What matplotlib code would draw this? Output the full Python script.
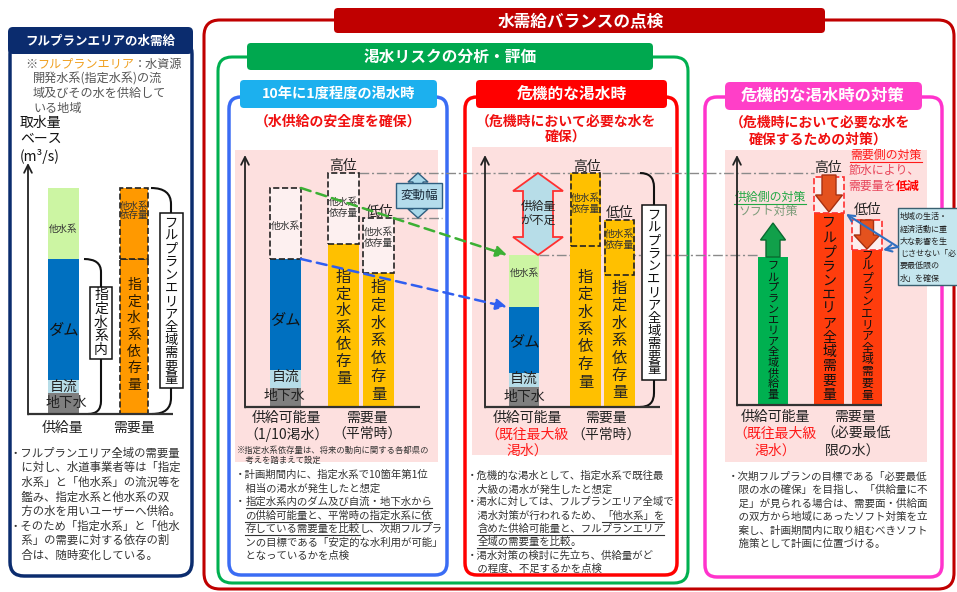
import matplotlib
matplotlib.use('Agg')
import matplotlib.pyplot as plt
from matplotlib.patches import FancyBboxPatch, Rectangle, Polygon, PathPatch, ConnectionPatch
from matplotlib.path import Path

plt.rcParams['font.family'] = ['Noto Sans CJK JP', 'DejaVu Sans']

# ---------------- data (heights in chart units) ----------------
supply_parts = ['地下水', '自流', 'ダム', '他水系']
demand_parts = ['指定水系依存量', '他水系依存量']

left_supply = [21, 13, 121, 71]
left_demand = [155, 71]

p1_supply = [19, 18, 111, 71]
p1_demand_high = [163, 71]
p1_demand_low = [134, 55]

p2_supply = [20, 14, 66, 52]
p2_demand_high = [161, 73]
p2_demand_low = [132, 55]

p3_supply = [148]
p3_demand = [192, 155]        # 高位, 低位 (after saving water)
p3_reduction = [36, 30]

# ---------------- figure ----------------
W_PX, H_PX = 957, 592
fig = plt.figure(figsize=(9.57, 5.92), dpi=100)
bg = fig.add_axes([0, 0, 1, 1])
bg.set_xlim(0, W_PX)
bg.set_ylim(H_PX, 0)
bg.axis('off')
renderer = fig.canvas.get_renderer()


def rbox(x0, y0, x1, y1, fc='none', ec='none', lw=1.0, r=8, z=1, ls='-'):
    p = FancyBboxPatch((x0, y0), x1 - x0, y1 - y0,
                       boxstyle=f"round,pad=0,rounding_size={r}",
                       fc=fc, ec=ec, lw=lw, zorder=z, ls=ls)
    bg.add_patch(p)


def T(ax, x, y, s, size=8, color='#222', ha='center', va='center', weight='normal', **kw):
    return ax.text(x, y, s, fontsize=size, color=color, ha=ha, va=va,
                   fontweight=weight, **kw)


def vtext(ax, x, y_first, y_last, s, size, color='#222', weight='normal'):
    n = len(s)
    for i, ch in enumerate(s):
        y = y_first + (y_last - y_first) * i / (n - 1)
        ax.text(x, y, ch, fontsize=size, color=color, ha='center', va='center',
                fontweight=weight, zorder=5)


def rich(x, y, segs, size, color='#333', ha='left'):
    items = []
    for seg in segs:
        if isinstance(seg, str):
            seg = (seg, {})
        s, o = seg
        t = bg.text(0, y, s, fontsize=size, color=o.get('color', color),
                    fontweight=o.get('weight', 'normal'), ha='left', va='center', zorder=6)
        w = t.get_window_extent(renderer).width
        items.append((t, o, w))
    total = sum(w for _, _, w in items)
    cx = x - total / 2 if ha == 'center' else x
    for t, o, w in items:
        t.set_x(cx)
        if o.get('ul'):
            uy = y + size * 100 / 72 * 0.62
            bg.plot([cx, cx + w], [uy, uy], color=o.get('color', color), lw=0.8, zorder=6)
        cx += w


def lines(x, y0, dy, rows, size, color='#333'):
    for i, r in enumerate(rows):
        rich(x, y0 + i * dy, r if isinstance(r, list) else [r], size, color)


def chart(x_axis, base, w, h):
    ax = fig.add_axes([(x_axis - 10) / W_PX, (H_PX - (base + 10)) / H_PX,
                       (w + 10) / W_PX, (h + 10) / H_PX])
    ax.set_xlim(-10, w)
    ax.set_ylim(-10, h)
    ax.axis('off')
    ax.patch.set_visible(False)
    return ax


def draw_axes(ax, top, right):
    ax.annotate('', xy=(0, top), xytext=(0, -0.5),
                arrowprops=dict(arrowstyle='->', lw=1.3, color='#222',
                                mutation_scale=14, shrinkA=0, shrinkB=0), zorder=4)
    ax.plot([0, right], [0, 0], color='#333', lw=1.6, solid_capstyle='butt', zorder=4)


def block_arrow(ax, xc, y0, y1, bw, hw, hl, double=False, fc='red', ec='k', lw=1.0, z=4):
    s = 1 if y1 > y0 else -1
    if double:
        pts = [(xc, y0), (xc - hw, y0 + s * hl), (xc - bw, y0 + s * hl), (xc - bw, y1 - s * hl),
               (xc - hw, y1 - s * hl), (xc, y1), (xc + hw, y1 - s * hl), (xc + bw, y1 - s * hl),
               (xc + bw, y0 + s * hl), (xc + hw, y0 + s * hl)]
    else:
        pts = [(xc - bw, y0), (xc - bw, y1 - s * hl), (xc - hw, y1 - s * hl), (xc, y1),
               (xc + hw, y1 - s * hl), (xc + bw, y1 - s * hl), (xc + bw, y0)]
    ax.add_patch(Polygon(pts, closed=True, fc=fc, ec=ec, lw=lw, zorder=z))


def bracket(ax, x_top, y_top, x_bot, xv, r, box, text, tsize, t_first, t_last):
    bx0, bx1, by_top, by_bot = box
    P = Path
    upper = Path([(x_top, y_top), (xv, y_top), (xv, y_top - r), (xv, by_top)],
                 [P.MOVETO, P.CURVE3, P.CURVE3, P.LINETO])
    lower = Path([(xv, by_bot), (xv, r), (xv, 0), (x_bot, 0)],
                 [P.MOVETO, P.LINETO, P.CURVE3, P.CURVE3])
    for p in (upper, lower):
        ax.add_patch(PathPatch(p, fc='none', ec='#111', lw=1.5, zorder=3))
    ax.add_patch(Rectangle((bx0, by_bot), bx1 - bx0, by_top - by_bot, fc='white',
                           ec='#111', lw=1.1, zorder=3))
    vtext(ax, (bx0 + bx1) / 2, t_first, t_last, text, tsize, color='#111')


C_GROUND, C_JIRYU, C_DAM, C_OTHER = '#7f7f7f', '#b7dde8', '#0070c0', '#ccf5a3'
C_ORANGE, C_YELLOW, C_PALE = '#ff9900', '#ffc000', '#fdf0f0'
C_PINK = '#fde0df'

# ---------------- frames & headers ----------------
rbox(10, 40, 192, 576, ec='#0b2c6e', lw=2.5, r=14)
rbox(8, 27, 193, 54, fc='#0b2c6e', r=5, z=2)
T(bg, 100, 41, 'フルプランエリアの水需給', 9, 'white', weight='bold', zorder=3)

rbox(204, 20, 954, 589, ec='#c00000', lw=2.2, r=16)
rbox(334, 8, 825, 33, fc='#c00000', r=4, z=2)
T(bg, 581, 21, '水需給バランスの点検', 12, 'white', weight='bold', zorder=3)

rbox(218, 57, 688, 583, ec='#00b050', lw=2.2, r=14)
rbox(247, 43, 653, 70, fc='#00a84f', r=4, z=2)
T(bg, 450, 57, '渇水リスクの分析・評価', 11.3, 'white', weight='bold', zorder=3)

rbox(229, 97, 447, 575, ec='#3a6cf4', lw=2.5, r=12)
rbox(240, 80, 437, 108, fc='#1cb0ee', r=4, z=2)
T(bg, 339, 94, '10年に1度程度の渇水時', 10.3, 'white', weight='bold', zorder=3)

rbox(465, 97, 677, 575, ec='#ff0000', lw=2.5, r=12)
rbox(476, 80, 667, 108, fc='#ff0000', r=4, z=2)
T(bg, 572, 94, '危機的な渇水時', 11.3, 'white', weight='bold', zorder=3)

rbox(705, 97, 942, 577, ec='#ff33cc', lw=2.5, r=12)
rbox(725, 82, 922, 110, fc='#ff3fc8', r=5, z=2)
T(bg, 823, 96, '危機的な渇水時の対策', 11.8, 'white', weight='bold', zorder=3)

RED = '#f01010'
T(bg, 338, 122, '（水供給の安全度を確保）', 10, RED, weight='bold')
T(bg, 566, 122, '（危機時において必要な水を', 10, RED, weight='bold')
T(bg, 566, 138, '確保）', 10, RED, weight='bold')
T(bg, 820, 123, '（危機時において必要な水を', 10, RED, weight='bold')
T(bg, 818, 140, '確保するための対策）', 10, RED, weight='bold')

bg.add_patch(Rectangle((235, 150), 203, 312, fc=C_PINK, ec='none', zorder=0.5))
bg.add_patch(Rectangle((472, 147), 200, 308, fc=C_PINK, ec='none', zorder=0.5))
bg.add_patch(Rectangle((725, 150), 202, 312, fc=C_PINK, ec='none', zorder=0.5))

# ---------------- left panel texts ----------------
rich(25, 64, ['※', ('フルプランエリア', {'color': '#f0a020'}), '：水資源'], 8.7, '#555')
lines(33, 79, 14.6, ['開発水系(指定水系)の流', '域及びその水を供給して', 'いる地域'], 8.7, '#555')
T(bg, 20, 123, '取水量', 10, '#111', ha='left')
T(bg, 20, 139, 'ベース', 10, '#111', ha='left')
T(bg, 20, 156, '(m³/s)', 10, '#111', ha='left')
T(bg, 63, 428, '供給量', 10, '#222')
T(bg, 134, 428, '需要量', 10, '#222')
lines(10, 453, 14.6, ['・フルプランエリア全域の需要量',
                      '　に対し、水道事業者等は「指定',
                      '　水系」と「他水系」の流況等を',
                      '　鑑み、指定水系と他水系の双',
                      '　方の水を用いユーザーへ供給。',
                      '・そのため「指定水系」と「他水',
                      '　系」の需要に対する依存の割',
                      '　合は、随時変化している。'], 8.2)

# ---------------- left chart ----------------
axL = chart(28, 414, 170, 262)
bot = 0
for v, c in zip(left_supply, [C_GROUND, C_JIRYU, C_DAM, C_OTHER]):
    axL.bar(35.5, v, 31, bottom=bot, color=c, lw=0, zorder=2)
    bot += v
bot = 0
for v in left_demand:
    axL.bar(106, v, 28, bottom=bot, color=C_ORANGE, ec='#222', ls='--', lw=1.2, zorder=2)
    bot += v
draw_axes(axL, 251, 145)
sL = sum(left_supply)
T(axL, 35.5, sL - left_supply[3] / 2 - 6, '他水系', 6.8, '#333', zorder=5)
T(axL, 35.5, 84, 'ダム', 11, '#111', zorder=5)
T(axL, 35.5, 27, '自流', 10, '#222', zorder=5)
T(axL, 38, 11, '地下水', 10, '#222', zorder=5)
T(axL, 106, left_demand[0] + left_demand[1] / 2 + 13, '他水系\n依存量', 6.8, '#333',
  linespacing=1.1, zorder=5)
vtext(axL, 106, 129, 29, '指定水系依存量', 10, '#2a1a00')
bracket(axL, 56, sL - left_supply[3], 60, 73, 13, (62, 84, 127, 55), '指定水系内', 10, 119, 64)
bracket(axL, 123, sum(left_demand), 124, 143, 16, (131.5, 154.5, 201, 26),
        'フルプランエリア全域需要量', 9.5, 191, 34)

# ---------------- panel 1 chart ----------------
ax1 = chart(245, 407, 200, 262)
bot = 0
for v, c in zip(p1_supply[:3], [C_GROUND, C_JIRYU, C_DAM]):
    ax1.bar(40.5, v, 31, bottom=bot, color=c, lw=0, zorder=2)
    bot += v
ax1.bar(40.5, p1_supply[3], 31, bottom=bot, color=C_PALE, ec='#222', ls='--', lw=1.2, zorder=2)
for xc, vals in [(98.5, p1_demand_high), (133.5, p1_demand_low)]:
    ax1.bar(xc, vals[0], 31, color=C_YELLOW, lw=0, zorder=2)
    ax1.bar(xc, vals[1], 31, bottom=vals[0], color=C_PALE, ec='#222', ls='--', lw=1.2, zorder=2)
draw_axes(ax1, 252, 175)
s1 = sum(p1_supply)
T(ax1, 40.5, s1 - p1_supply[3] / 2 - 2, '他水系', 7, '#333', zorder=5)
T(ax1, 40.5, 87, 'ダム', 11, '#111', zorder=5)
T(ax1, 40.5, 30, '自流', 10, '#222', zorder=5)
T(ax1, 39, 11, '地下水', 10, '#222', zorder=5)
T(ax1, 98.5, p1_demand_high[0] + p1_demand_high[1] / 2 + 1, '他水系\n依存量', 7, '#333',
  linespacing=1.05, zorder=5)
T(ax1, 133.5, p1_demand_low[0] + p1_demand_low[1] / 2 + 8, '他水系\n依存量', 7, '#333',
  linespacing=1.05, zorder=5)
vtext(ax1, 98.5, 130, 29, '指定水系依存量', 11, '#222')
vtext(ax1, 133.5, 120, 12, '指定水系依存量', 11, '#222')
block_arrow(ax1, 173, sum(p1_demand_low), sum(p1_demand_high), 5, 10, 9, double=True,
            fc='#a8d8ea', ec='#2f5f80', lw=1.0)
ax1.add_patch(Rectangle((151, 199), 46, 25, fc='#b4dcec', ec='#2f5f80', lw=1.0, zorder=5))
T(ax1, 174, 211.5, '変動幅', 9, '#1a2a3a', zorder=6)

T(bg, 343, 166, '高位', 10, '#222')
T(bg, 380, 212, '低位', 10, '#222')
T(bg, 286, 418, '供給可能量', 10, '#222')
T(bg, 286, 434, '（1/10渇水）', 10, '#222')
T(bg, 367, 418, '需要量', 10, '#222')
T(bg, 367, 434, '（平常時）', 10, '#222')
T(bg, 237, 450, '※指定水系依存量は、将来の動向に関する各都県の', 6, '#333', ha='left')
T(bg, 237, 460, '　考えを踏まえて設定', 6, '#333', ha='left')
UL = {'ul': True}
lines(235, 475, 13.5, ['・計画期間内に、指定水系で10箇年第1位',
                       '　相当の渇水が発生したと想定',
                       ['・', ('指定水系内のダム及び自流・地下水から', UL)],
                       ['　', ('の供給可能量と、平常時の指定水系に依', UL)],
                       ['　', ('存している需要量を比較', UL), 'し、次期フルプラ'],
                       '　ンの目標である「安定的な水利用が可能」',
                       '　となっているかを点検'], 7.5)

# ---------------- panel 2 chart ----------------
ax2 = chart(485, 407, 190, 262)
bot = 0
for v, c in zip(p2_supply, [C_GROUND, C_JIRYU, C_DAM, C_OTHER]):
    ax2.bar(39, v, 30, bottom=bot, color=c, lw=0, zorder=2)
    bot += v
for xc, vals in [(100.5, p2_demand_high), (134.5, p2_demand_low)]:
    ax2.bar(xc, sum(vals), 31, color=C_YELLOW, lw=0, zorder=2)
    ax2.bar(xc, vals[1], 29, bottom=vals[0], color=C_YELLOW, ec='#222', ls='--', lw=1.2, zorder=2)
draw_axes(ax2, 252, 175)
s2 = sum(p2_supply)
T(ax2, 39, s2 - p2_supply[3] / 2 + 8, '他水系', 7, '#333', zorder=5)
T(ax2, 39, 65, 'ダム', 11, '#111', zorder=5)
T(ax2, 39, 28, '自流', 10, '#222', zorder=5)
T(ax2, 39, 10, '地下水', 10, '#222', zorder=5)
T(ax2, 100.5, p2_demand_high[0] + p2_demand_high[1] / 2 + 6, '他水系\n依存量', 7, '#333',
  linespacing=1.05, zorder=5)
T(ax2, 134.5, p2_demand_low[0] + p2_demand_low[1] / 2 + 8, '他水系\n依存量', 7, '#333',
  linespacing=1.05, zorder=5)
vtext(ax2, 100.5, 130, 25, '指定水系依存量', 11, '#222')
vtext(ax2, 134.5, 119, 14, '指定水系依存量', 11, '#222')
block_arrow(ax2, 53, s2, sum(p2_demand_high), 15, 25, 18, double=True,
            fc='#b7dde8', ec='#ff3030', lw=1.3)
T(ax2, 53, 194, '供給量\nが不足', 8.5, '#222', linespacing=1.1, zorder=6)
bracket(ax2, 155, sum(p2_demand_high), 155, 169, 14, (157, 181, 202, 27),
        'フルプランエリア全域需要量', 9.5, 192, 37)

T(bg, 587, 167, '高位', 10, '#222')
T(bg, 620, 213, '低位', 10, '#222')
T(bg, 527, 418, '供給可能量', 10, '#222')
T(bg, 527, 435, '（既往最大級', 10, '#ff1a1a')
T(bg, 527, 451, '渇水）', 10, '#ff1a1a')
T(bg, 606, 418, '需要量', 10, '#222')
T(bg, 606, 435, '（平常時）', 10, '#222')
lines(467, 476, 13.2, ['・危機的な渇水として、指定水系で既往最',
                       '　大級の渇水が発生したと想定',
                       '・渇水に対しては、フルプランエリア全域で',
                       ['　渇水対策が行われるため、', ('「他水系」を', UL)],
                       ['　', ('含めた供給可能量と、フルプランエリア', UL)],
                       ['　', ('全域の需要量を比較', UL), '。'],
                       '・渇水対策の検討に先立ち、供給量がど',
                       '　の程度、不足するかを点検'], 7.5)

# ---------------- panel 3 chart ----------------
ax3 = chart(737, 405, 200, 262)
ax3.bar(36, p3_supply[0], 30, color='#00b050', lw=0, zorder=2)
for xc, v, red in zip([92, 130], p3_demand, p3_reduction):
    ax3.bar(xc, v, 30, color='#ff3d0d', lw=0, zorder=2)
    ax3.bar(xc, red, 30, bottom=v, color='#fdeeee', ec='#ff3030', ls='--', lw=1.2, zorder=2)
draw_axes(ax3, 250, 145)
block_arrow(ax3, 36, p3_supply[0], p3_supply[0] + 34, 7, 12.5, 17, fc='#11a04a', ec='#0a6a30')
block_arrow(ax3, 92, p3_demand[0] + p3_reduction[0] + 2, p3_demand[0] + 1, 7, 13.5, 17,
            fc='#e4521e', ec='#a83010')
block_arrow(ax3, 130, p3_demand[1] + p3_reduction[1], p3_demand[1] + 1, 6.5, 13, 14,
            fc='#e4521e', ec='#a83010')
vtext(ax3, 36, 138, 10, 'フルプランエリア全域供給量', 8, '#111')
vtext(ax3, 92, 182, 10, 'フルプランエリア全域需要量', 10, '#111')
vtext(ax3, 130, 150, 10, 'フルプランエリア全域需要量', 8.5, '#111')
ax3.annotate('', xy=(92 + 17, p3_demand[0] - 1), xytext=(161, 158),
             arrowprops=dict(arrowstyle='->', color='#2f6fc0', lw=1.5, mutation_scale=12,
                             shrinkA=0, shrinkB=0), zorder=6)
ax3.annotate('', xy=(130 + 16, p3_demand[1]), xytext=(161, 158),
             arrowprops=dict(arrowstyle='->', color='#2f6fc0', lw=1.5, mutation_scale=12,
                             shrinkA=0, shrinkB=0), zorder=6)

T(bg, 828, 168, '高位', 10, '#222')
T(bg, 868, 210, '低位', 10, '#222')
rich(886, 155, [('需要側の対策', {'color': '#ff1a1a', 'ul': True})], 8.6, ha='center')
rich(884, 170, ['節水により、'], 8.6, '#e8455a', ha='center')
rich(884, 186, ['需要量を', ('低減', {'color': '#ff0000', 'weight': 'bold'})], 8.6, '#e8455a',
     ha='center')
rich(770, 197, [('供給側の対策', {'color': '#22a844', 'ul': True})], 8.6, ha='center')
T(bg, 768, 212, 'ソフト対策', 8.6, '#7a9a78')

T(bg, 775, 417, '供給可能量', 10, '#222')
T(bg, 775, 434, '（既往最大級', 10, '#ff1a1a')
T(bg, 775, 451, '渇水）', 10, '#ff1a1a')
T(bg, 855, 417, '需要量', 10, '#222')
T(bg, 856, 434, '（必要最低', 10, '#222')
T(bg, 853, 451, '限の水）', 10, '#222')
lines(728, 477, 13.4, ['・次期フルプランの目標である「必要最低',
                       '　限の水の確保」を目指し、「供給量に不',
                       '　足」が見られる場合は、需要面・供給面',
                       '　の双方から地域にあったソフト対策を立',
                       '　案し、計画期間内に取り組むべきソフト',
                       '　施策として計画に位置づける。'], 7.6)

# callout
bg.add_patch(Rectangle((898, 208), 70, 77, fc='#c5e6ee', ec='#3a6070', lw=1.0, zorder=3))
lines(900, 217, 12.2, ['地域の生活・', '経済活動に重', '大な影響を生', 'じさせない「必',
                       '要最低限の', '水」を確保'], 5.8, '#222')

# ---------------- cross-panel guide lines ----------------
DD = (0, (7, 2, 1.5, 2))
yA = 407 - sum(p1_demand_high)
bg.plot([245 + 98.5 + 15.5, 737 + 92 - 15], [yA, yA], color='#8a8a8a', lw=1.0, ls=DD, zorder=1)
yB = 407 - sum(p1_demand_low)
bg.plot([245 + 133.5 + 15.5, 245 + 197], [yB, yB], color='#8a8a8a', lw=1.0, ls=DD, zorder=1)
yC = 407 - sum(p2_supply)
bg.plot([485 + 39 + 15, 737 + 36 - 15], [yC, yC], color='#8a8a8a', lw=1.0, ls=DD, zorder=1)

for l1, l2, col in [(sum(p1_supply), sum(p2_supply), '#3cb034'),
                    (sum(p1_supply[:3]), sum(p2_supply[:3]), '#2f5ef0')]:
    con = ConnectionPatch(xyA=(56, l1), coordsA=ax1.transData,
                          xyB=(22, l2), coordsB=ax2.transData,
                          arrowstyle='-|>', mutation_scale=16, color=col, lw=1.8,
                          ls=(0, (4, 2.5)), zorder=7)
    fig.add_artist(con)

fig.savefig('out.png', dpi=100)
